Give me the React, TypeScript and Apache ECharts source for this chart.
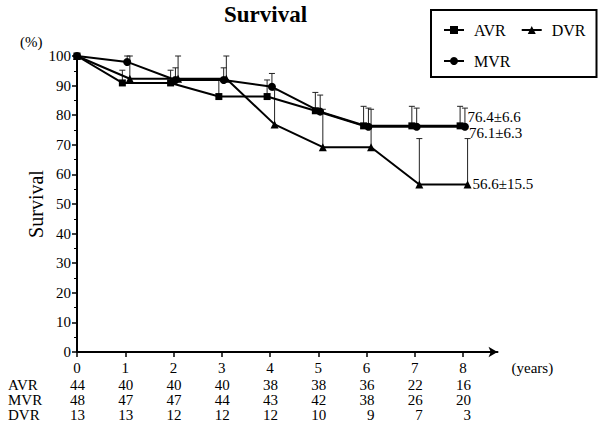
import React, { useEffect, useRef } from "react";
import * as echarts from "echarts";

const FONT = "'Liberation Serif', 'Times New Roman', serif";

const years = [0, 1, 2, 3, 4, 5, 6, 7, 8];
const groups = ["AVR", "MVR", "DVR"];
const legendOrder = ["AVR", "DVR", "MVR"];

const avrSurvival = [100, 90.9, 90.9, 86.3, 86.3, 81.5, 76.4, 76.4, 76.4];
const mvrSurvival = [100, 98.0, 91.9, 91.9, 89.6, 81.2, 76.1, 76.1, 76.1];
const dvrSurvival = [100, 92.3, 92.3, 92.3, 76.9, 69.2, 69.2, 56.6, 56.6];

const avrUpper = [null, 95.2, 95.2, 91.8, 91.9, 87.7, 83.0, 83.0, 83.0];
const mvrUpper = [null, 100, 96.0, 96.0, 94.1, 86.8, 82.4, 82.4, 82.4];
const dvrUpper = [null, 100, 100, 100, 88.5, 82.0, 82.0, 72.1, 72.1];

const endLabels = ["76.4±6.6", "76.1±6.3", "56.6±15.5"];

const avrAtRisk = [44, 40, 40, 40, 38, 38, 36, 22, 16];
const mvrAtRisk = [48, 47, 47, 44, 43, 42, 38, 26, 20];
const dvrAtRisk = [13, 13, 12, 12, 12, 10, 9, 7, 3];

const yTicks = [0, 10, 20, 30, 40, 50, 60, 70, 80, 90, 100];

const survival = [avrSurvival, mvrSurvival, dvrSurvival];
const uppers = [avrUpper, mvrUpper, dvrUpper];
const atRisk = [avrAtRisk, mvrAtRisk, dvrAtRisk];

// visual dodge (in years) so the overlapping groups stay visible
const dodge = [-0.06, 0.04, 0.095];
const symbols = ["rect", "circle", "triangle"];
const symbolSizes = [7, 8, 8];
const labelDist = [4, 0, 1];
const labelDy = [-9, 6, 0];

const XMAX = 8.715;
const PX_PER_YEAR = 48.25;

export default function App() {
  const ref = useRef<HTMLDivElement>(null);

  useEffect(() => {
    if (!ref.current) return;
    const chart = echarts.init(ref.current, null, { renderer: "svg" });

    const lineSeries = groups.map((g, gi) => ({
      name: g,
      type: "line",
      z: 3,
      symbol: symbols[gi],
      symbolSize: symbolSizes[gi],
      lineStyle: { color: "#000", width: 2 },
      itemStyle: { color: "#000" },
      data: years.map((t, i) => {
        const x = t === 0 ? 0 : t + dodge[gi];
        if (i === years.length - 1) {
          return {
            value: [x, survival[gi][i]],
            label: {
              show: true,
              position: "right",
              distance: labelDist[gi],
              offset: [0, labelDy[gi]],
              formatter: endLabels[gi],
              fontFamily: FONT,
              fontSize: 15,
              color: "#000",
            },
          };
        }
        return [x, survival[gi][i]];
      }),
    }));

    const errSeries = groups.map((g, gi) => ({
      name: g + " err",
      type: "custom",
      z: 2,
      silent: true,
      encode: { x: 0, y: [1, 2] },
      data: years
        .map((t, i) => [t === 0 ? 0 : t + dodge[gi], survival[gi][i], uppers[gi][i]])
        .filter((d) => d[2] !== null),
      renderItem: (params: any, api: any) => {
        const x = api.value(0);
        const lo = api.coord([x, api.value(1)]);
        const hi = api.coord([x, api.value(2)]);
        const st = { stroke: "#222", lineWidth: 1 };
        return {
          type: "group",
          children: [
            { type: "line", shape: { x1: lo[0], y1: lo[1], x2: hi[0], y2: hi[1] }, style: st },
            { type: "line", shape: { x1: hi[0] - 3, y1: hi[1], x2: hi[0] + 3, y2: hi[1] }, style: st },
          ],
        };
      },
    }));

    const countAxes = groups.map((g, gi) => ({
      type: "value",
      min: 0,
      max: XMAX,
      position: "bottom",
      offset: 17 + gi * 15,
      axisLine: { show: false },
      axisTick: { show: false },
      splitLine: { show: false },
      axisLabel: {
        customValues: years,
        margin: 8,
        fontFamily: FONT,
        fontSize: 15,
        color: "#000",
        formatter: (v: number) => `{n|${atRisk[gi][years.indexOf(v)]}}`,
        rich: { n: { width: 16, align: "right", fontFamily: FONT, fontSize: 15, color: "#000" } },
      },
    }));

    chart.setOption({
      animation: false,
      textStyle: { fontFamily: FONT, color: "#000" },
      title: {
        text: "Survival",
        left: 224,
        top: 3,
        padding: 0,
        textStyle: { fontFamily: FONT, fontSize: 23, fontWeight: "bold", color: "#000" },
      },
      legend: {
        data: legendOrder,
        left: 431,
        top: 10,
        width: 150,
        orient: "horizontal",
        itemWidth: 20,
        itemHeight: 10,
        itemGap: 15,
        padding: [12, 11, 8, 12],
        borderColor: "#000",
        borderWidth: 2,
        textStyle: { fontFamily: FONT, fontSize: 16, color: "#000", padding: [0, 5, 0, 5] },
      },
      grid: { left: 77, right: 600 - 77 - XMAX * PX_PER_YEAR, top: 56, bottom: 80, containLabel: false },
      xAxis: [
        {
          type: "value",
          min: 0,
          max: XMAX,
          name: "(years)",
          nameLocation: "end",
          nameGap: 14,
          nameMoveOverlap: false,
          nameTextStyle: { fontFamily: FONT, fontSize: 15, color: "#000", verticalAlign: "top", padding: [8, 0, 0, 0] },
          axisLine: { lineStyle: { color: "#000", width: 2 }, symbol: ["none", "arrow"], symbolSize: [8, 9] },
          axisTick: { customValues: years, length: 5, lineStyle: { color: "#000", width: 1.5 } },
          axisLabel: { customValues: years, margin: 8, fontFamily: FONT, fontSize: 15, color: "#000" },
          splitLine: { show: false },
        },
        ...countAxes,
      ],
      yAxis: {
        type: "value",
        min: 0,
        max: 100,
        interval: 10,
        name: "Survival",
        nameLocation: "middle",
        nameGap: 31,
        nameMoveOverlap: false,
        nameTextStyle: { fontFamily: FONT, fontSize: 20, color: "#000" },
        axisLine: { show: true, lineStyle: { color: "#000", width: 2 } },
        axisTick: { show: true, length: 5, lineStyle: { color: "#000", width: 1.5 } },
        minorTick: { show: true, splitNumber: 2, length: 3, lineStyle: { color: "#000", width: 1 } },
        axisLabel: { customValues: yTicks, margin: 6, fontFamily: FONT, fontSize: 15, color: "#000" },
        splitLine: { show: false },
        minorSplitLine: { show: false },
      },
      graphic: [
        { type: "text", left: 20, top: 34, style: { text: "(%)", fontFamily: FONT, fontSize: 15, fill: "#000" } },
        ...groups.map((g, gi) => ({
          type: "text",
          left: 8,
          top: 377 + gi * 15,
          style: { text: g, fontFamily: FONT, fontSize: 15, fill: "#000" },
        })),
      ],
      series: [...errSeries, ...lineSeries],
    });

    return () => chart.dispose();
  }, []);

  return <div ref={ref} style={{ position: "absolute", left: 0, top: 0, width: 600, height: 432 }} />;
}
